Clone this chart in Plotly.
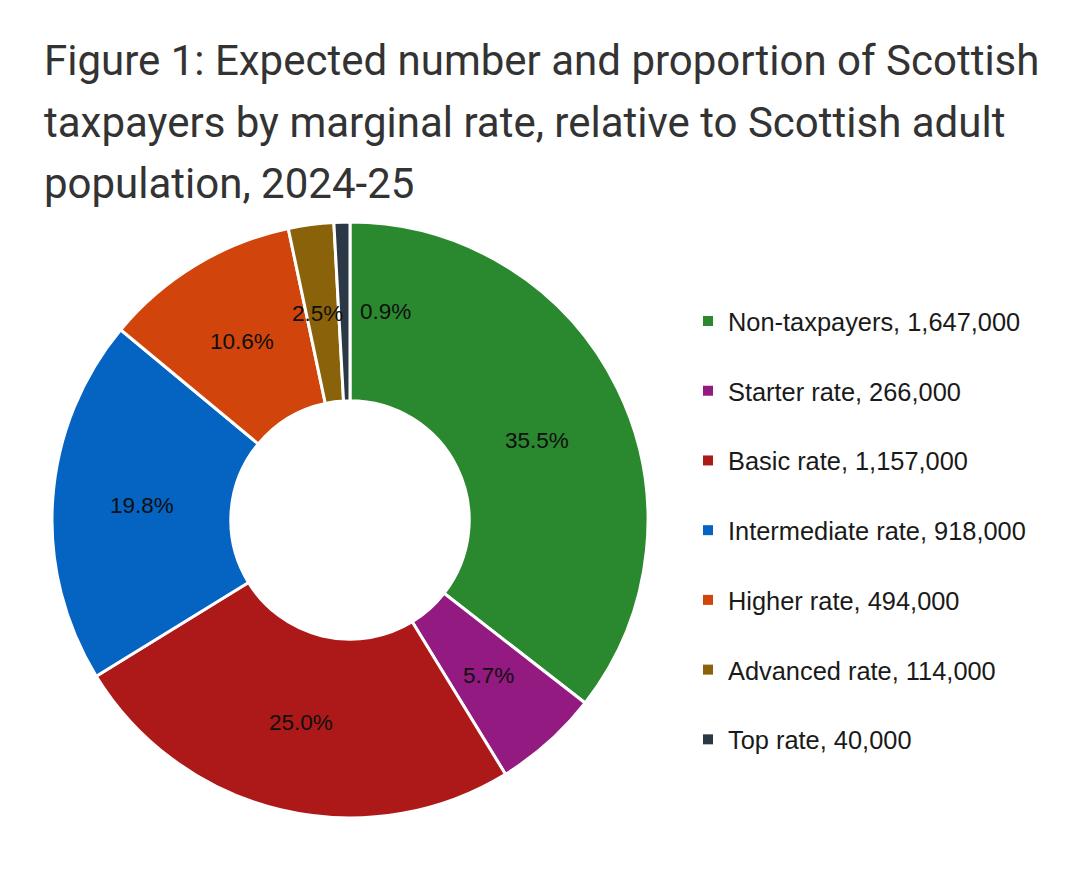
import math
import plotly.graph_objects as go

# Data
categories = ['Non-taxpayers', 'Starter rate', 'Basic rate', 'Intermediate rate',
              'Higher rate', 'Advanced rate', 'Top rate']
taxpayers = [1647000, 266000, 1157000, 918000, 494000, 114000, 40000]
pct_labels = ['35.5%', '5.7%', '25.0%', '19.8%', '10.6%', '2.5%', '0.9%']
title_lines = ['Figure 1: Expected number and proportion of Scottish',
               'taxpayers by marginal rate, relative to Scottish adult',
               'population, 2024-25']

colors = ['#2a882e', '#931a80', '#ad1919', '#0563c1', '#d1440c', '#8a6209', '#2b3947']

W, H = 1080, 890
# pie placement in pixels (from top-left of the figure; page adds 8px body margin)
cx, cy, r_out = 342, 512, 298
hole = 0.4

fig = go.Figure()

fig.add_trace(go.Pie(
    labels=categories,
    values=taxpayers,
    sort=False,
    direction='clockwise',
    rotation=0,
    hole=hole,
    marker=dict(colors=colors, line=dict(color='white', width=3)),
    textinfo='none',
    hoverinfo='label+value+percent',
    showlegend=False,
    domain=dict(x=[(cx - r_out) / W, (cx + r_out) / W],
                y=[1 - (cy + r_out) / H, 1 - (cy - r_out) / H]),
))

# legend entries as dummy traces so the spacing can match
for name, n, col in zip(categories, taxpayers, colors):
    fig.add_trace(go.Scatter(
        x=[None], y=[None], mode='markers',
        marker=dict(symbol='square', size=10, color=col),
        name=f'{name}, {n:,}', legendgroup=name, hoverinfo='skip',
    ))

# percentage labels, placed mid-ring at each slice's mid angle
total = sum(taxpayers)
r_lab = r_out * (1 + hole) / 2
nudge_x = {'Top rate': 41, 'Advanced rate': -5}
nudge_y = {'Non-taxpayers': -12}
annotations = []
cum = 0
for name, v, txt in zip(categories, taxpayers, pct_labels):
    mid = (cum + v / 2) / total * 2 * math.pi
    cum += v
    px = cx + r_lab * math.sin(mid)
    py = cy - r_lab * math.cos(mid)
    annotations.append(dict(
        x=px / W, y=1 - py / H, xref='paper', yref='paper',
        xanchor='center', yanchor='middle',
        text=txt, showarrow=False,
        xshift=nudge_x.get(name, 0), yshift=nudge_y.get(name, 0),
        font=dict(family='Liberation Sans, Arial', size=22.5, color='#0f0f0f'),
    ))

# title, one annotation per line for the wide line spacing
for i, line in enumerate(title_lines):
    annotations.append(dict(
        x=34 / W, y=1 - (52 + 62 * i) / H, xref='paper', yref='paper',
        xanchor='left', yanchor='middle', text=line, showarrow=False,
        font=dict(family='Roboto', size=42, color='#333333'),
    ))

fig.update_layout(
    width=W, height=H,
    margin=dict(l=0, r=0, t=0, b=0),
    paper_bgcolor='white', plot_bgcolor='white',
    xaxis=dict(visible=False), yaxis=dict(visible=False),
    annotations=annotations,
    legend=dict(
        x=680 / W, y=1 - 290 / H, xanchor='left', yanchor='top',
        font=dict(family='Liberation Sans, Arial', size=25.4, color='#1a1a1a'),
        tracegroupgap=33.7, itemsizing='trace',
        bgcolor='rgba(0,0,0,0)',
    ),
)

fig.write_html('out.html')
